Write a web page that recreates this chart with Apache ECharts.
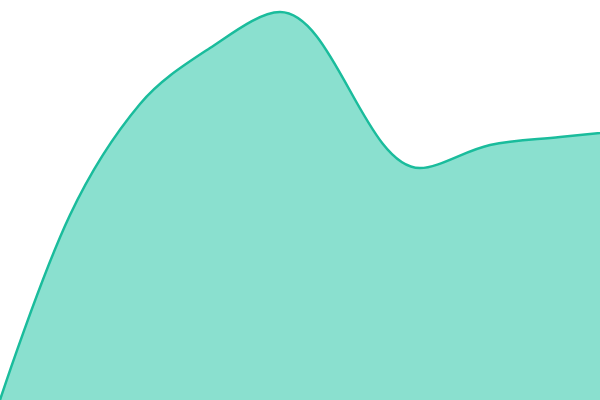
<!DOCTYPE html>
<html><head><meta charset="utf-8">
<script src="https://cdn.jsdelivr.net/npm/echarts@6/dist/echarts.min.js"></script>
<style>html,body{margin:0;padding:0;background:#fff;overflow:hidden}#c{width:600px;height:400px}</style>
</head><body><div id="c"></div>
<script>
const xValues = [0, 70, 140, 210, 280, 420, 490, 560, 630];
const yValues = [0, 185, 296, 352, 388, 232, 255, 263, 270];
const seriesData = xValues.map((x, i) => [x, yValues[i]]);
const chart = echarts.init(document.getElementById('c'), null, {renderer:'canvas'});
chart.setOption({
  animation:false,
  grid:{left:0,right:0,top:0,bottom:0},
  xAxis:{type:'value',min:0,max:600,show:false},
  yAxis:{type:'value',min:0,max:400,show:false},
  series:[{
    type:'line',data:seriesData,smooth:0.35,showSymbol:false,clip:true,
    lineStyle:{color:'#1abc9c',width:2.5},
    itemStyle:{color:'#1abc9c'},
    areaStyle:{color:'#8ae0cf',opacity:1}
  }]
});
</script></body></html>
